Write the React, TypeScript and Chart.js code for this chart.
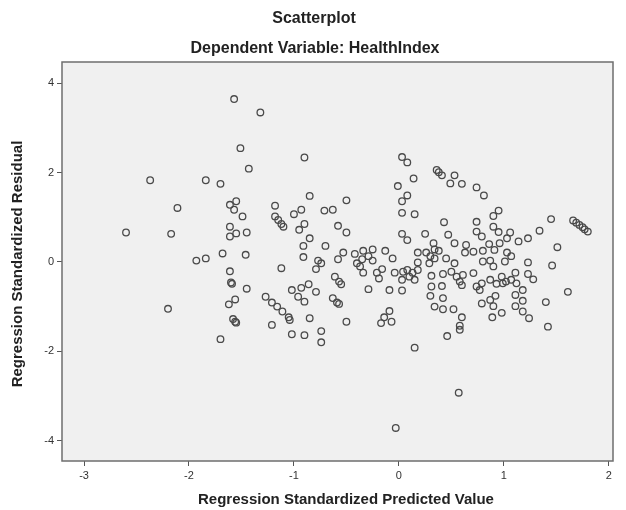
import React, { useEffect, useRef } from "react";
import { Chart, registerables } from "chart.js";
Chart.register(...registerables);

const chartTitle = "Scatterplot";
const chartSubtitle = "Dependent Variable: HealthIndex";
const xAxisTitle = "Regression Standardized Predicted Value";
const yAxisTitle = "Regression Standardized Residual";
const xTicks = [-3, -2, -1, 0, 1, 2];
const yTicks = [-4, -2, 0, 2, 4];

const predicted = [
  -1.57, -1.51, -2.37, -1.84, -1.7, -2.11, -1.61, -1.55, -1.57, -2.6, -2.17, -1.61, -1.61, -1.55,
  -1.32, -1.43, -0.9, -1.49, -1.45, -1.18, -1.18, -1.15, -1.12, -1.1, -0.85, -1.0, -0.93, -0.9, -0.95, -0.85,
  -0.71, -0.63, -0.5, -0.58, -0.5, 0.03, 0.08, 0.14, -0.01, 0.08, 0.03, 0.03, 0.15, 0.03,
  0.36, 0.38, 0.41, 0.53, 0.49, 0.6, 0.74, 0.81, 0.95, 0.9, 1.45, 1.34, 1.66, 1.69, 1.72, 1.75, 1.77, 1.8,
  0.43, 0.74, 0.74, 0.79, 0.9, 0.95, 1.06, 1.03, 0.25, 0.47, 1.23,
  -1.93, -1.84, -1.68, -1.61, -1.6, -1.59, -1.62, -1.56, -1.58, -1.56, -1.55, -2.2, -1.7,
  -1.02, -0.9, -0.74, -0.74, 0.15, -0.03, 0.46, 0.58, 0.57,
  -0.91, -0.7, -1.46, -0.91, -0.77, -0.74, -0.79, -1.12, -1.45, -1.02, -0.93, -0.86, -0.79, -0.96, -0.9,
  -1.27, -1.21, -1.16, -1.11, -1.05, -1.04, -1.21, -0.85,
  0.08, -0.53, -0.58, -0.42, -0.34, -0.25, -0.13, -0.06, -0.4, -0.35, -0.29, -0.37, -0.25, -0.34, -0.21,
  -0.16, -0.19, 0.18, 0.18, -0.04, 0.04, 0.08, 0.13, 0.1, 0.15, 0.03, 0.18, -0.61, -0.57, -0.55, -0.29,
  -0.09, 0.03, -0.63, -0.59, -0.57, -0.09, -0.14, -0.07, -0.17, -0.5,
  0.33, 0.53, 0.64, 0.86, 0.96, 0.26, 0.34, 0.38, 0.3, 0.34, 0.45, 0.63, 0.71, 0.8, 0.91, 1.03,
  0.29, 0.53, 0.8, 0.87, 0.9, 1.01, 0.31, 0.42, 0.5, 0.55, 0.61, 0.71, 0.87, 0.98, 0.99,
  0.31, 0.41, 0.58, 0.6, 0.74, 0.77, 0.79, 0.93, 1.02, 0.3, 0.42, 0.79, 0.87, 0.92,
  0.34, 0.42, 0.52, 0.9, 0.6, 0.89, 0.98, 0.58,
  1.14, 1.51, 1.07, 1.23, 1.46, 1.11, 1.23, 1.28, 1.07, 1.12, 1.18, 1.11, 1.18, 1.11, 1.18, 1.24, 1.61, 1.4, 1.42,
];

const residual = [
  3.65, 2.55, 1.83, 1.83, 1.75, 1.21, 1.28, 1.36, 1.17, 0.66, 0.63, 0.79, 0.57, 0.64,
  3.35, 2.09, 2.34, 1.02, 0.66, 1.26, 1.02, 0.94, 0.85, 0.79, 1.48, 1.07, 1.17, 0.85, 0.72, 0.53,
  1.15, 1.17, 1.38, 0.81, 0.66, 2.35, 2.23, 1.87, 1.7, 1.49, 1.36, 1.1, 1.07, 0.63,
  2.06, 2.01, 1.94, 1.94, 1.76, 1.75, 1.67, 1.49, 1.15, 1.03, 0.96, 0.7, 0.93, 0.88, 0.83, 0.78, 0.73, 0.68,
  0.89, 0.9, 0.68, 0.57, 0.79, 0.67, 0.66, 0.53, 0.63, 0.61, 0.53,
  0.03, 0.08, 0.19, -0.21, -0.46, -0.49, -0.95, -0.84, -1.28, -1.34, -1.36, -1.05, -1.73,
  -1.62, -1.64, -1.55, -1.8, -1.92, -3.72, -1.66, -1.52, -2.93,
  0.36, 0.36, 0.16, 0.11, 0.03, -0.03, -0.16, -0.14, -0.6, -0.63, -0.58, -0.5, -0.67, -0.78, -0.89,
  -0.78, -0.91, -1.0, -1.11, -1.24, -1.3, -1.41, -1.26,
  0.49, 0.21, 0.06, 0.18, 0.25, 0.28, 0.25, 0.08, -0.03, 0.06, 0.13, -0.1, 0.03, -0.24, -0.24,
  -0.16, -0.37, 0.21, -0.01, -0.24, -0.22, -0.18, -0.24, -0.33, -0.4, -0.4, -0.18, -0.33, -0.44, -0.5, -0.61,
  -0.63, -0.64, -0.81, -0.91, -0.94, -1.1, -1.24, -1.34, -1.37, -1.34,
  0.42, 0.42, 0.38, 0.4, 0.42, 0.21, 0.28, 0.25, 0.13, 0.08, 0.08, 0.21, 0.23, 0.25, 0.27, 0.21,
  -0.03, -0.03, 0.01, 0.03, -0.1, 0.01, -0.31, -0.27, -0.22, -0.33, -0.29, -0.25, -0.4, -0.33, -0.48,
  -0.55, -0.54, -0.44, -0.52, -0.55, -0.63, -0.48, -0.49, -0.44, -0.76, -0.81, -0.93, -0.85, -0.76,
  -1.0, -1.06, -1.06, -0.99, -1.24, -1.24, -1.14, -1.43,
  0.46, 0.33, 0.13, -0.01, -0.08, -0.24, -0.27, -0.39, -0.4, -0.48, -0.63, -0.74, -0.87, -0.99, -1.11, -1.26, -0.67, -0.9, -1.45,
];

const FONT = '"Liberation Sans", Arial, Helvetica, sans-serif';

export default function App() {
  const ref = useRef<HTMLCanvasElement>(null);

  useEffect(() => {
    if (!ref.current) return;
    const points = predicted.map((x, i) => ({ x, y: residual[i] }));

    const decor = {
      id: "decor",
      beforeDraw(c: any) {
        const { ctx, chartArea: a } = c;
        ctx.save();
        ctx.fillStyle = "#ffffff";
        ctx.fillRect(0, 0, c.width, c.height);
        ctx.fillStyle = "#f0f0f0";
        ctx.fillRect(a.left, a.top, a.right - a.left, a.bottom - a.top);
        ctx.restore();
      },
      afterDraw(c: any) {
        const { ctx, chartArea: a } = c;
        ctx.save();
        ctx.strokeStyle = "#6e6e6e";
        ctx.lineWidth = 1.5;
        ctx.strokeRect(a.left, a.top, a.right - a.left, a.bottom - a.top);
        ctx.fillStyle = "#222222";
        ctx.textAlign = "center";
        ctx.textBaseline = "middle";
        ctx.font = `bold 16px ${FONT}`;
        ctx.fillText(chartTitle, 314, 19);
        ctx.fillText(chartSubtitle, 315, 49);
        ctx.font = `bold 15px ${FONT}`;
        ctx.fillText(xAxisTitle, 346, 500);
        ctx.translate(18, 264);
        ctx.rotate(-Math.PI / 2);
        ctx.fillText(yAxisTitle, 0, 0);
        ctx.restore();
      },
    };

    const tickFont = { family: FONT, size: 11 };
    const chart = new Chart(ref.current, {
      type: "scatter",
      data: {
        datasets: [
          {
            data: points,
            pointStyle: "circle",
            pointRadius: 3.3,
            pointBorderWidth: 1.3,
            borderColor: "#4a4a4a",
            backgroundColor: "rgba(0,0,0,0)",
            pointHoverRadius: 3.3,
          },
        ],
      },
      options: {
        responsive: false,
        animation: false,
        devicePixelRatio: 1,
        events: [],
        layout: { padding: { top: 62, right: 13, left: 0, bottom: 0 } },
        plugins: { legend: { display: false }, tooltip: { enabled: false }, title: { display: false } },
        scales: {
          x: {
            type: "linear",
            min: -3.21,
            max: 2.04,
            afterBuildTicks: (s: any) => {
              s.ticks = xTicks.map((v) => ({ value: v }));
            },
            afterFit: (s: any) => {
              s.height = 49;
            },
            grid: { drawOnChartArea: false, drawTicks: true, tickLength: 5, color: "#555555" },
            border: { display: false },
            ticks: { color: "#333333", font: tickFont, padding: 3, maxRotation: 0, autoSkip: false },
          },
          y: {
            type: "linear",
            min: -4.46,
            max: 4.48,
            afterBuildTicks: (s: any) => {
              s.ticks = yTicks.map((v) => ({ value: v }));
            },
            afterFit: (s: any) => {
              s.width = 62;
            },
            grid: { drawOnChartArea: false, drawTicks: true, tickLength: 5, color: "#555555" },
            border: { display: false },
            ticks: { color: "#333333", font: tickFont, padding: 3, autoSkip: false },
          },
        },
      },
      plugins: [decor],
    });
    return () => chart.destroy();
  }, []);

  return (
    <div style={{ position: "absolute", left: 0, top: 0, width: 626, height: 510, background: "#fff" }}>
      <canvas ref={ref} width={626} height={510} style={{ display: "block", width: 626, height: 510 }} />
    </div>
  );
}
